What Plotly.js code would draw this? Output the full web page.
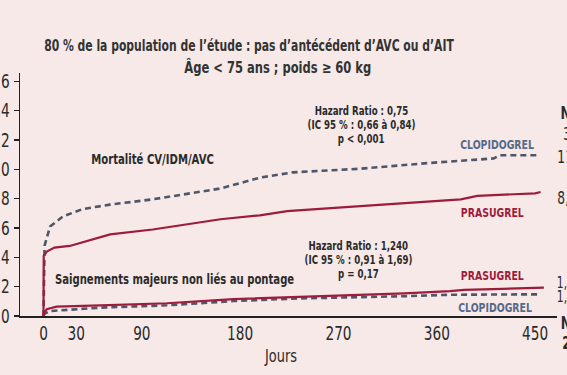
<!DOCTYPE html>
<html>
<head>
<meta charset="utf-8">
<script src="https://cdn.plot.ly/plotly-3.0.1.min.js"></script>
<style>
  html, body { margin: 0; padding: 0; background: #f6e9e7; }
  #chart { width: 567px; height: 375px; }
</style>
</head>
<body>
<div id="chart"></div>
<script>
// ---- Data (days, cumulative %) ----
const effClopiDays = [0, 0.3, 1, 6, 18, 36, 61, 100, 162, 198, 228, 290, 351, 412, 418, 452];
const effClopiVals = [0, 4.1, 4.8, 6.1, 6.8, 7.3, 7.6, 7.96, 8.7, 9.44, 9.8, 10.05, 10.43, 10.75, 10.97, 10.97];

const effPrasDays = [0, 0.2, 3, 10, 24, 39, 61, 100, 162, 198, 223, 290, 382, 397, 441, 450, 455];
const effPrasVals = [0, 4.1, 4.4, 4.67, 4.78, 5.1, 5.57, 5.9, 6.6, 6.87, 7.16, 7.5, 7.96, 8.2, 8.37, 8.37, 8.46];

const bleedPrasDays = [0, 0.5, 3, 12, 52, 113, 174, 235, 281, 330, 372, 385, 420, 458];
const bleedPrasVals = [0, 0.2, 0.46, 0.64, 0.73, 0.87, 1.15, 1.3, 1.41, 1.55, 1.7, 1.78, 1.85, 1.94];

const bleedClopiDays = [0, 1, 6, 52, 113, 174, 235, 281, 330, 372, 415, 455];
const bleedClopiVals = [0, 0.15, 0.34, 0.57, 0.73, 1.02, 1.2, 1.25, 1.35, 1.45, 1.48, 1.48];

const xTickVals = [0, 30, 90, 180, 270, 360, 450];
const xTickText = ['0', '30', '90', '180', '270', '360', '450'];
const yTickVals = [0, 2, 4, 6, 8, 10, 12, 14, 16];
const yTickText = ['0', '2', '4', '6', '8', '10', '12', '14', '16'];

const titleLine1 = "80 % de la population de l’étude : pas d’antécédent d’AVC ou d’AIT";
const titleLine2 = "Âge < 75 ans ; poids ≥ 60 kg";

// ---- Styles ----
const NARROW = "'DejaVu Sans Condensed', 'DejaVu Sans', sans-serif";
const RED = '#9e1b3c';
const GREY = '#4f5668';
const BLUEGREY = '#566a8a';
const TXT = '#2b2b2b';
const SQUEEZE = 0.8;        // horizontal condensation of the text glyphs
const TITLE_SQUEEZE = 0.75;

const traces = [
  {x: effClopiDays, y: effClopiVals, mode: 'lines', line: {color: GREY, width: 2.6, dash: '6px,4px'}, hoverinfo: 'skip'},
  {x: effPrasDays, y: effPrasVals, mode: 'lines', line: {color: RED, width: 2.2}, hoverinfo: 'skip'},
  {x: bleedClopiDays, y: bleedClopiVals, mode: 'lines', line: {color: GREY, width: 2.6, dash: '6px,4px'}, hoverinfo: 'skip'},
  {x: bleedPrasDays, y: bleedPrasVals, mode: 'lines', line: {color: RED, width: 2.2}, hoverinfo: 'skip'}
];

const PL = 20, PR = 557, PT = 73.3, PB = 316.3;
function px(xp) { return (xp - PL) / (PR - PL); }
function py(yp) { return (PB - yp) / (PB - PT); }

function ann(text, x, y, opts) {
  return Object.assign({
    text: text, x: x, y: y, xref: 'x', yref: 'y', showarrow: false,
    font: {family: NARROW, size: 12, color: TXT, weight: 700},
    xanchor: 'center', yanchor: 'middle'
  }, opts || {});
}
function pann(text, xp, yp, opts) {
  return ann(text, px(xp), py(yp), Object.assign({xref: 'paper', yref: 'paper'}, opts || {}));
}

const annotations = [
  pann(titleLine1, 249, 46, {font: {family: NARROW, size: 16, color: '#333', weight: 700}}),
  pann(titleLine2, 278, 68, {font: {family: NARROW, size: 16, color: '#333', weight: 700}}),
  ann('Mortalité CV/IDM/AVC', 99.8, 10.73, {font: {family: NARROW, size: 14, color: TXT, weight: 700}}),
  ann('Saignements majeurs non liés au pontage', 120, 2.54, {font: {family: NARROW, size: 14, color: TXT, weight: 700}}),
  pann('Hazard Ratio : 0,75', 361, 111),
  pann('(IC 95 % : 0,66 à 0,84)', 361, 125),
  pann('p < 0,001', 361, 139),
  pann('Hazard Ratio : 1,240', 359, 246),
  pann('(IC 95 % : 0,91 à 1,69)', 359, 260),
  pann('p = 0,17', 359, 274),
  pann('CLOPIDOGREL', 497, 145, {font: {family: NARROW, size: 13, color: BLUEGREY, weight: 700}}),
  pann('PRASUGREL', 492, 213, {font: {family: NARROW, size: 13, color: RED, weight: 700}}),
  pann('PRASUGREL', 492, 276, {font: {family: NARROW, size: 13, color: RED, weight: 700}}),
  pann('CLOPIDOGREL', 495, 308, {font: {family: NARROW, size: 13, color: BLUEGREY, weight: 700}}),
  pann('Jours', 280, 356, {font: {family: NARROW, size: 18, color: TXT}}),
  pann('NNT', 555, 113, {xanchor: 'left', font: {family: NARROW, size: 17, color: TXT, weight: 700}}),
  pann('37', 559, 134, {xanchor: 'left', font: {family: NARROW, size: 17, color: TXT}}),
  pann('11,0 %', 550, 157, {xanchor: 'left', font: {family: NARROW, size: 17, color: TXT}}),
  pann('8,3 %', 551, 198, {xanchor: 'left', font: {family: NARROW, size: 17, color: TXT}}),
  pann('1,9 %', 551, 283, {xanchor: 'left', font: {family: NARROW, size: 15, color: TXT}}),
  pann('1,5 %', 551, 297, {xanchor: 'left', font: {family: NARROW, size: 15, color: TXT}}),
  pann('NNH', 555, 323, {xanchor: 'left', font: {family: NARROW, size: 17, color: TXT, weight: 700}}),
  pann('222', 557, 343, {xanchor: 'left', font: {family: NARROW, size: 17, color: TXT, weight: 700}})
];

const layout = {
  width: 567, height: 375,
  margin: {l: 20, r: 10, t: 73.3, b: 58.7, pad: 0},
  paper_bgcolor: '#f6e9e7', plot_bgcolor: '#f6e9e7',
  showlegend: false,
  xaxis: {
    range: [-21.5, 470], tickvals: xTickVals, ticktext: xTickText,
    showline: true, linecolor: '#222', linewidth: 1.5, ticks: '',
    showgrid: false, zeroline: false, ticklabelstandoff: 0,
    tickfont: {family: NARROW, size: 19, color: TXT}, fixedrange: true
  },
  yaxis: {
    range: [0, 16.58], tickvals: yTickVals, ticktext: yTickText,
    showline: true, linecolor: '#222', linewidth: 1.5,
    ticks: 'outside', ticklen: 5, tickwidth: 1.3, tickcolor: '#222',
    showgrid: false, zeroline: false, ticklabelstandoff: 0,
    tickfont: {family: NARROW, size: 19, color: TXT}, fixedrange: true
  },
  annotations: annotations
};

Plotly.newPlot('chart', traces, layout, {staticPlot: true, displayModeBar: false}).then(function (gd) {
  // condense glyphs horizontally to imitate the narrow typeface of the original
  gd.querySelectorAll('.annotation-text, .xtick text, .ytick text').forEach(function (t) {
    const w = t.getComputedTextLength();
    if (w > 0) {
      const f = (t.textContent === titleLine1) ? TITLE_SQUEEZE : SQUEEZE;
      t.setAttribute('textLength', (w * f).toFixed(2));
      t.setAttribute('lengthAdjust', 'spacingAndGlyphs');
    }
  });
});
</script>
</body>
</html>
